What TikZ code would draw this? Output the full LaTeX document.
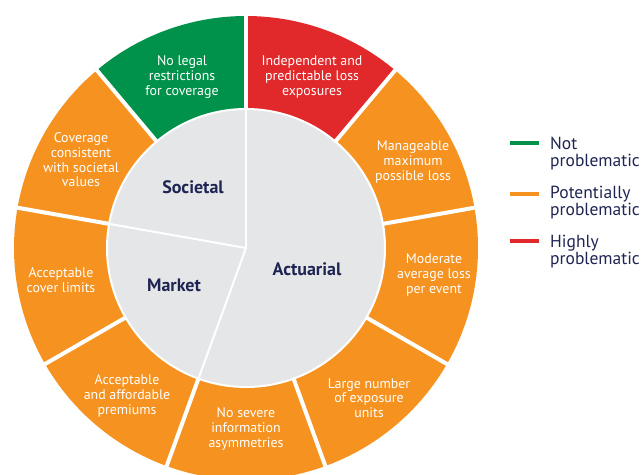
\documentclass[tikz,border=0pt]{standalone}
\usepackage{fontspec}
\setmainfont{PT Sans}
\definecolor{cgreen}{HTML}{00924A}
\definecolor{cred}{HTML}{E1292B}
\definecolor{corange}{HTML}{F6921F}
\definecolor{cgray}{HTML}{E5E6E8}
\definecolor{cnavy}{HTML}{1F2553}
\begin{document}
\begin{tikzpicture}[x=1pt,y=1pt,
  seglabel/.style={text=white, align=center, inner sep=0pt, font=\fontsize{13.9}{14.7}\selectfont},
  corelabel/.style={text=cnavy, inner sep=0pt, font=\fontsize{18}{20}\selectfont\bfseries},
  legendtext/.style={text=cnavy, align=left, anchor=west, inner sep=0pt, font=\fontsize{17.5}{17}\selectfont},
  legendline/.style={line width=4pt},
  gapline/.style={white, line width=4pt},
  thinline/.style={white, line width=2pt}]
\useasboundingbox (0,0) rectangle (642,-474);
\begin{scope}[shift={(246,-248)}]
  \coordinate (C) at (0,0);
  \foreach \a/\c in {50/cred, 10/corange, -30/corange, -70/corange, -110/corange,
                     -150/corange, -190/corange, 130/corange, 90/cgreen}{
    \fill[\c] (\a:139) arc[start angle=\a, end angle=\a+40, radius=139]
      -- (\a+40:232) arc[start angle=\a+40, end angle=\a, radius=232] -- cycle;
  }
  \fill[cgray] (C) circle[radius=139];
  \draw[thinline] (C) circle[radius=139];
  \foreach \a in {90,170,-110}{
    \draw[thinline] (C) -- (\a:139);
  }
  \foreach \a in {90,50,10,-30,-70,-110,-150,170,130}{
    \draw[gapline] (\a:138) -- (\a:236);
  }
\end{scope}
\node[seglabel] (legal) at (182,-77) {No legal\\restrictions\\for coverage};
\node[seglabel] (indep) at (312,-77) {Independent and\\predictable loss\\exposures};
\node[seglabel] (manage) at (413,-162) {Manageable\\maximum\\possible loss};
\node[seglabel] (moderate) at (434,-275) {Moderate\\average loss\\per event};
\node[seglabel] (large) at (369,-398) {Large number\\of exposure\\units};
\node[seglabel] (severe) at (246,-429) {No severe\\information\\asymmetries};
\node[seglabel] (premiums) at (127,-396) {Acceptable\\and affordable\\premiums};
\node[seglabel] (limits) at (61,-280) {Acceptable\\cover limits};
\node[seglabel] (coverage) at (81,-160) {Coverage\\consistent\\with societal\\values};
\node[corelabel] (societal) at (193,-187) {Societal};
\node[corelabel] (market) at (174,-285) {Market};
\node[corelabel] (actuarial) at (307,-269) {Actuarial};
\coordinate (g1) at (510,-143); \coordinate (g2) at (539,-143);
\coordinate (o1) at (510,-194); \coordinate (o2) at (539,-194);
\coordinate (r1) at (510,-241); \coordinate (r2) at (539,-241);
\draw[legendline, cgreen] (g1) -- (g2);
\draw[legendline, corange] (o1) -- (o2);
\draw[legendline, cred] (r1) -- (r2);
\node[legendtext] (lnot) at (550,-154) {Not\\problematic};
\node[legendtext] (lpot) at (550,-203) {Potentially\\problematic};
\node[legendtext] (lhigh) at (550,-252) {Highly\\problematic};
\end{tikzpicture}
\end{document}
